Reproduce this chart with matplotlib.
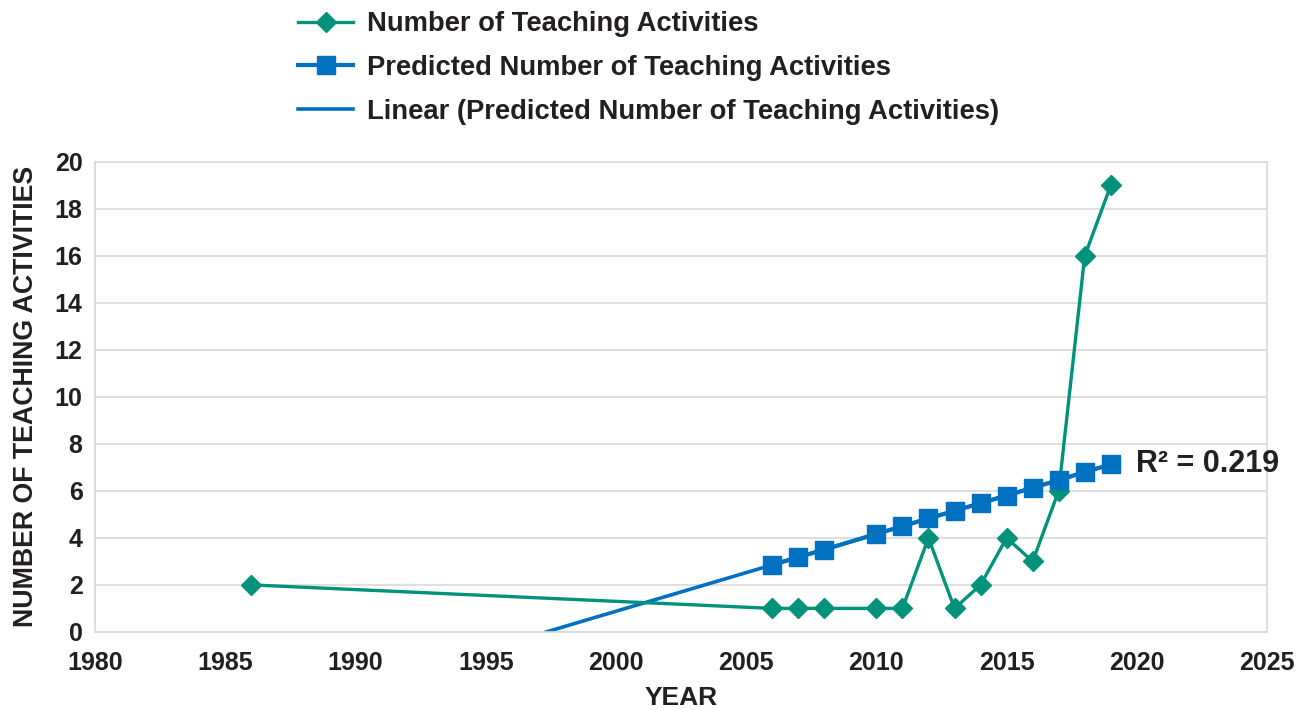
import numpy as np
import matplotlib.pyplot as plt

plt.rcParams['font.family'] = ['Liberation Sans', 'DejaVu Sans']
plt.rcParams['font.weight'] = 'bold'

years = [1986, 2006, 2007, 2008, 2010, 2011, 2012, 2013, 2014, 2015, 2016, 2017, 2018, 2019]
activities = [2, 1, 1, 1, 1, 1, 4, 1, 2, 4, 3, 6, 16, 19]

pred_years = [2006, 2007, 2008, 2010, 2011, 2012, 2013, 2014, 2015, 2016, 2017, 2018, 2019]
predicted = [2.85, 3.18, 3.5, 4.17, 4.5, 4.83, 5.15, 5.48, 5.8, 6.13, 6.46, 6.8, 7.13]

r2_text = "R\u00b2 = 0.219"

green = "#00927A"
blue = "#0070C0"
txt = "#231F20"

fig = plt.figure(figsize=(13.13, 7.1), dpi=100)
ax = fig.add_axes([0.0724, 0.11, 0.8926, 0.662])

ax.plot(years, activities, color=green, lw=2.4, marker="D", ms=10,
        label="Number of Teaching Activities", zorder=3)
ax.plot(pred_years, predicted, color=blue, lw=3, marker="s", ms=13,
        label="Predicted Number of Teaching Activities", zorder=4)

# linear trend of predicted values, extended back to where it hits zero
slope, icpt = np.polyfit(pred_years, predicted, 1)
x0 = -icpt / slope
tx = np.array([x0, pred_years[-1]])
ax.plot(tx, slope * tx + icpt, color=blue, lw=2.6,
        label="Linear (Predicted Number of Teaching Activities)", zorder=2)

ax.text(2019.95, predicted[-1], r2_text, fontsize=22, fontweight="bold",
        color=txt, va="center", ha="left")

ax.set_xlim(1980, 2025)
ax.set_ylim(0, 20)
ax.set_xticks(range(1980, 2026, 5))
ax.set_yticks(range(0, 21, 2))
ax.grid(axis="y", color="#D9D9D9", lw=1.2)
ax.set_axisbelow(True)
for s in ax.spines.values():
    s.set_color("#D9D9D9")
    s.set_linewidth(1.2)
ax.tick_params(length=0, labelsize=18, colors=txt)
ax.tick_params(axis="y", pad=9)
ax.tick_params(axis="x", pad=14)
for lbl in ax.get_xticklabels() + ax.get_yticklabels():
    lbl.set_fontweight("bold")

ax.set_xlabel("YEAR", fontsize=19, fontweight="bold", color=txt, labelpad=8)
ax.set_ylabel("NUMBER OF TEACHING ACTIVITIES", fontsize=19.3, fontweight="bold",
              color=txt, labelpad=11)

leg = fig.legend(loc="upper left", bbox_to_anchor=(0.2085, 1.019), frameon=False,
                 handlelength=2.0, handletextpad=0.5, labelspacing=0.65,
                 prop={"weight": "bold", "size": 19.7})
for t in leg.get_texts():
    t.set_color(txt)

fig.savefig("out.png", dpi=100)
